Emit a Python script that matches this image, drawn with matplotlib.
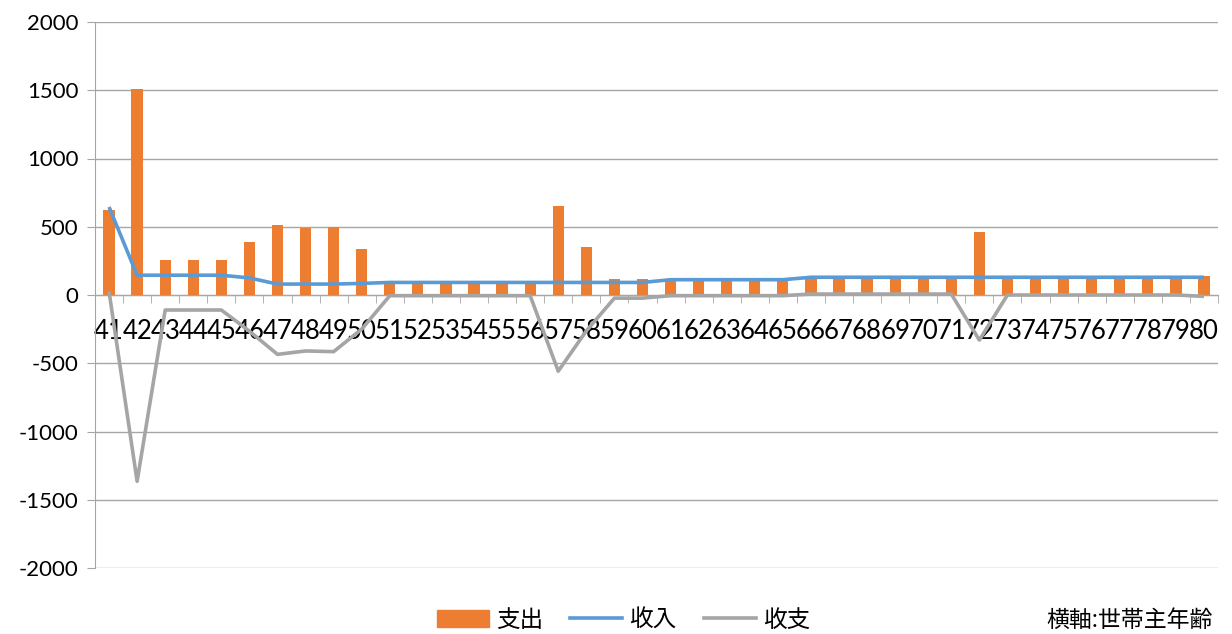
import numpy as np
import matplotlib
matplotlib.use("Agg")
import matplotlib.pyplot as plt
from matplotlib.patches import Patch
from matplotlib.lines import Line2D

plt.rcParams['font.family'] = ['Noto Sans CJK JP', 'DejaVu Sans']
plt.rcParams['axes.unicode_minus'] = False

ages = [str(a) for a in range(41, 81)]

# 支出 (expenditure)
spend = [620, 1510, 255, 255, 255, 390, 515, 490, 495, 335,
         97, 97, 97, 97, 97, 97, 650, 355, 115, 115,
         117, 117, 117, 117, 117, 123, 123, 123, 123, 123,
         123, 460, 130, 130, 130, 130, 130, 130, 130, 140]

# 収入 (income)
income = [645, 145, 145, 145, 145, 125, 80, 80, 80, 85,
          92, 92, 92, 92, 92, 92, 92, 92, 92, 92,
          112, 112, 112, 112, 112, 130, 130, 130, 130, 130,
          130, 130, 130, 130, 130, 130, 130, 130, 130, 130]

# 収支 (balance)
balance = [25, -1365, -110, -110, -110, -265, -435, -410, -415, -250,
           -5, -5, -5, -5, -5, -5, -558, -263, -23, -23,
           -5, -5, -5, -5, -5, 7, 7, 7, 7, 7,
           7, -330, 0, 0, 0, 0, 0, 0, 0, -10]

orange = '#ED7D31'
blue = '#5B9BD5'
gray = '#A5A5A5'

fig = plt.figure(figsize=(12.32, 6.34), dpi=100)
ax = fig.add_axes([95 / 1232, 1 - 568 / 634, (1218 - 95) / 1232, (568 - 22) / 634])

x = np.arange(len(ages))
ax.bar(x, spend, width=0.4, color=orange, zorder=2)
ax.plot(x, income, color=blue, lw=2.6, zorder=3, solid_capstyle='butt')
ax.plot(x, balance, color=gray, lw=2.6, zorder=3, solid_capstyle='butt')

ax.set_xlim(-0.5, len(ages) - 0.5)
ax.set_ylim(-2000, 2000)
ax.set_yticks(np.arange(-2000, 2001, 500))
ax.yaxis.grid(True, color='#a6a6a6', lw=1.0, zorder=0)
ax.tick_params(axis='y', length=6, color='#a6a6a6', labelsize=16, pad=6)
for lab in ax.get_yticklabels():
    lab.set_family(['Lato', 'DejaVu Sans'])

ax.spines['bottom'].set_position(('data', 0))
ax.spines['bottom'].set_color('#a6a6a6')
ax.spines['left'].set_color('#a6a6a6')
ax.spines['top'].set_visible(False)
ax.spines['right'].set_visible(False)

ax.set_xticks(x)
ax.set_xticklabels(ages)
ax.set_xticks(np.arange(-0.5, len(ages)), minor=True)
ax.tick_params(axis='x', which='major', length=0, labelsize=18.5, pad=17)
ax.tick_params(axis='x', which='minor', length=6, color='#a6a6a6')
for lab in ax.get_xticklabels():
    lab.set_family(['Lato', 'DejaVu Sans'])

handles = [Patch(color=orange, label='支出'),
           Line2D([0], [0], color=blue, lw=2.6, label='收入'),
           Line2D([0], [0], color=gray, lw=2.6, label='收支')]
fig.legend(handles=handles, loc='center', bbox_to_anchor=(0.506, 0.022),
           ncol=3, frameon=False, fontsize=17, handlelength=2.2,
           handletextpad=0.3, columnspacing=1.15)

fig.text(0.984, 0.022, '横軸:世帯主年齢', ha='right', va='center', fontsize=16.5)

fig.savefig('out.png', dpi=100)
